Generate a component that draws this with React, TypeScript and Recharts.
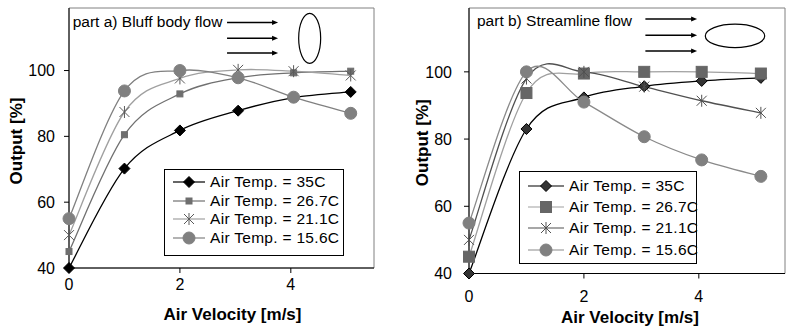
import { LineChart, Line, XAxis, YAxis, Legend, ReferenceLine, ReferenceDot, ReferenceArea } from 'recharts';

// air velocity [m/s] of the measured points
const velocity = [0, 1, 2, 3.05, 4.05, 5.08];

// part a) bluff body flow, output [%]
const bluff35 = [40, 70.2, 81.8, 87.8, 91.8, 93.5];
const bluff267 = [45, 80.5, 92.9, 97.8, 99.3, 99.8];
const bluff211 = [50, 87.4, 97.6, 100.2, 99.8, 98.5];
const bluff156 = [55, 93.8, 100, 97.8, 91.9, 87];

// part b) streamline flow, output [%]
const stream35 = [40, 83, 92.4, 95.7, 97.3, 98.2];
const stream267 = [45, 93.7, 99.5, 100, 100, 99.5];
const stream211 = [50, 98, 100, 95.6, 91.4, 87.8];
const stream156 = [55, 100, 91, 80.7, 73.8, 68.9];

const seriesNames = ['Air Temp. = 35C', 'Air Temp. = 26.7C', 'Air Temp. = 21.1C', 'Air Temp. = 15.6C'];
const xTicks = [0, 2, 4];
const yTicks = [40, 60, 80, 100];

const FONT = '"Liberation Sans", Arial, sans-serif';

const toRows = (a: number[], b: number[], c: number[], d: number[]) =>
  velocity.map((v, i) => ({ v, t35: a[i], t267: b[i], t211: c[i], t156: d[i] }));

const bluffData = toRows(bluff35, bluff267, bluff211, bluff156);
const streamData = toRows(stream35, stream267, stream211, stream156);

// Excel-like smoothed line (Catmull-Rom style bezier through the points)
function excelCurve(context: any) {
  let pts: number[][] = [];
  return {
    areaStart() {},
    areaEnd() {},
    lineStart() {
      pts = [];
    },
    point(x: number, y: number) {
      pts.push([+x, +y]);
    },
    lineEnd() {
      const n = pts.length;
      if (!n) return;
      context.moveTo(pts[0][0], pts[0][1]);
      for (let i = 0; i < n - 1; i++) {
        const p0 = pts[Math.max(i - 1, 0)];
        const p1 = pts[i];
        const p2 = pts[i + 1];
        const p3 = pts[Math.min(i + 2, n - 1)];
        context.bezierCurveTo(
          p1[0] + (p2[0] - p0[0]) / 6,
          p1[1] + (p2[1] - p0[1]) / 6,
          p2[0] - (p3[0] - p1[0]) / 6,
          p2[1] - (p3[1] - p1[1]) / 6,
          p2[0],
          p2[1]
        );
      }
    },
  };
}

type MarkerStyle = { kind: string; size: number; fill: string; stroke: string };

function Marker({ cx, cy, m }: { cx: number; cy: number; m: MarkerStyle }) {
  const s = m.size / 2;
  if (m.kind === 'diamond') {
    return <polygon points={`${cx},${cy - s} ${cx + s},${cy} ${cx},${cy + s} ${cx - s},${cy}`} fill={m.fill} stroke={m.stroke} />;
  }
  if (m.kind === 'square') {
    return <rect x={cx - s} y={cy - s} width={m.size} height={m.size} fill={m.fill} stroke={m.stroke} />;
  }
  if (m.kind === 'star') {
    return (
      <g stroke={m.stroke} strokeWidth={1}>
        <line x1={cx - s} y1={cy - s} x2={cx + s} y2={cy + s} />
        <line x1={cx - s} y1={cy + s} x2={cx + s} y2={cy - s} />
        <line x1={cx} y1={cy - s - 1} x2={cx} y2={cy + s + 1} />
      </g>
    );
  }
  return <circle cx={cx} cy={cy} r={s} fill={m.fill} stroke={m.stroke} />;
}

const bluffStyles = [
  { key: 't35', line: '#000000', marker: { kind: 'diamond', size: 11, fill: '#000000', stroke: '#000000' } },
  { key: 't267', line: '#707070', marker: { kind: 'square', size: 6, fill: '#6e6e6e', stroke: '#6e6e6e' } },
  { key: 't211', line: '#a0a0a0', marker: { kind: 'star', size: 10, fill: 'none', stroke: '#5a5a5a' } },
  { key: 't156', line: '#808080', marker: { kind: 'circle', size: 12, fill: '#808080', stroke: '#808080' } },
];

const streamStyles = [
  { key: 't35', line: '#000000', marker: { kind: 'diamond', size: 11, fill: '#333333', stroke: '#000000' } },
  { key: 't267', line: '#a0a0a0', marker: { kind: 'square', size: 11, fill: '#666666', stroke: '#666666' } },
  { key: 't211', line: '#505050', marker: { kind: 'star', size: 10, fill: 'none', stroke: '#505050' } },
  { key: 't156', line: '#8a8a8a', marker: { kind: 'circle', size: 12, fill: '#808080', stroke: '#808080' } },
];

function LegendBox({ styles, rowGap, sampleW }: { styles: any[]; rowGap: number; sampleW: number }) {
  return (
    <div style={{ border: '1px solid #000', background: '#fff', padding: '3px 0 0 8px', fontFamily: FONT, fontSize: 15.5, letterSpacing: 0.3, boxSizing: 'border-box', width: '100%', height: '100%' }}>
      {styles.map((s, i) => (
        <div key={s.key} style={{ display: 'flex', alignItems: 'center', height: rowGap, whiteSpace: 'nowrap' }}>
          <svg width={sampleW} height={16} style={{ marginRight: 5, flex: 'none' }}>
            <line x1={0} y1={8} x2={sampleW} y2={8} stroke={s.line} strokeWidth={1.2} />
            <Marker cx={sampleW / 2} cy={8} m={s.marker} />
          </svg>
          <span>{seriesNames[i]}</span>
        </div>
      ))}
    </div>
  );
}

const Arrow = (p: any) => (
  <g>
    <line x1={p.x1} y1={p.y1} x2={p.x2 - 5} y2={p.y2} stroke="#000" strokeWidth={1.5} />
    <polygon points={`${p.x2},${p.y2} ${p.x2 - 6},${p.y2 - 2.5} ${p.x2 - 6},${p.y2 + 2.5}`} fill="#000" />
  </g>
);

const yTitle = (dx: number, dy: number) => (props: any) => {
  const vb = props.viewBox;
  const x = vb.x + dx;
  const y = vb.y + vb.height / 2 + dy;
  return (
    <text x={x} y={y} transform={`rotate(-90 ${x} ${y})`} textAnchor="middle" dominantBaseline="central" fontFamily={FONT} fontWeight="bold" fontSize={17} fill="#000">
      Output [%]
    </text>
  );
};

const xTitle = (dx: number, dy: number) => (props: any) => {
  const vb = props.viewBox;
  return (
    <text x={vb.x + vb.width / 2 + dx} y={vb.y + dy} textAnchor="middle" dominantBaseline="central" fontFamily={FONT} fontWeight="bold" fontSize={17} fill="#000">
      Air Velocity [m/s]
    </text>
  );
};

const tickStyle = { fontFamily: FONT, fontSize: 16, fill: '#000' };

function Panel(props: {
  data: any[];
  styles: any[];
  width: number;
  yAxisWidth: number;
  marginRight: number;
  xAxisHeight: number;
  xTickMargin: number;
  yTickMargin: number;
  xTitlePos: number[];
  yTitlePos: number[];
  legendBox: { left: number; top: number; width: number; height: number };
  rowGap: number;
  sampleW: number;
  title: string;
  titleAt: number[];
  arrowX: number[];
  arrowY: number[];
  ellipseAt: number[];
  ellipseR: number[];
}) {
  const p = props;
  return (
    <LineChart width={p.width} height={328} data={p.data} margin={{ top: 8, right: p.marginRight, left: 0, bottom: 0 }}>
      <ReferenceArea x1={0} x2={5.5} y1={40} y2={119} fill="none" stroke="#808080" strokeWidth={1} ifOverflow="visible" />
      <XAxis
        type="number"
        dataKey="v"
        domain={[0, 5.5]}
        ticks={xTicks}
        height={p.xAxisHeight}
        tickSize={5}
        tickMargin={p.xTickMargin}
        stroke="#000"
        tick={tickStyle}
        label={{ content: xTitle(p.xTitlePos[0], p.xTitlePos[1]) }}
      />
      <YAxis
        type="number"
        domain={[40, 119]}
        ticks={yTicks}
        width={p.yAxisWidth}
        tickSize={5}
        tickMargin={p.yTickMargin}
        stroke="#000"
        tick={tickStyle}
        label={{ content: yTitle(p.yTitlePos[0], p.yTitlePos[1]) }}
      />
      <ReferenceDot
        x={p.titleAt[0]}
        y={p.titleAt[1]}
        r={0}
        ifOverflow="visible"
        shape={(s: any) => (
          <text x={s.cx} y={s.cy} dominantBaseline="central" fontFamily={FONT} fontSize={15.5} fill="#000">
            {p.title}
          </text>
        )}
      />
      {p.arrowY.map((ay) => (
        <ReferenceLine
          key={ay}
          segment={[
            { x: p.arrowX[0], y: ay },
            { x: p.arrowX[1], y: ay },
          ]}
          ifOverflow="visible"
          shape={Arrow}
        />
      ))}
      <ReferenceDot
        x={p.ellipseAt[0]}
        y={p.ellipseAt[1]}
        r={0}
        ifOverflow="visible"
        shape={(s: any) => <ellipse cx={s.cx} cy={s.cy} rx={p.ellipseR[0]} ry={p.ellipseR[1]} fill="none" stroke="#000" strokeWidth={1.2} />}
      />
      {p.styles.map((s, i) => (
        <Line
          key={s.key}
          dataKey={s.key}
          name={seriesNames[i]}
          type={excelCurve as any}
          stroke={s.line}
          strokeWidth={1.3}
          isAnimationActive={false}
          dot={(d: any) => <Marker key={`${s.key}-${d.index}`} cx={d.cx} cy={d.cy} m={s.marker} />}
          activeDot={false}
        />
      ))}
      <Legend
        layout="vertical"
        align="center"
        verticalAlign="middle"
        wrapperStyle={{ ...p.legendBox, position: 'absolute' }}
        content={() => <LegendBox styles={p.styles} rowGap={p.rowGap} sampleW={p.sampleW} />}
      />
    </LineChart>
  );
}

export default function App() {
  return (
    <div style={{ position: 'absolute', left: 0, top: 0, width: 787, height: 328, background: '#fff' }}>
      <div style={{ position: 'absolute', left: 0, top: 0 }}>
        <Panel
          data={bluffData}
          styles={bluffStyles}
          width={390}
          yAxisWidth={69}
          marginRight={16}
          xAxisHeight={60}
          xTickMargin={6}
          yTickMargin={9}
          xTitlePos={[11, 46]}
          yTitlePos={[16, 3]}
          legendBox={{ left: 164, top: 169, width: 180, height: 87 }}
          rowGap={18.6}
          sampleW={32}
          title="part a) Bluff body flow"
          titleAt={[0.067, 114.9]}
          arrowX={[2.85, 3.77]}
          arrowY={[114.6, 109.8, 105.3]}
          ellipseAt={[4.34, 109.8]}
          ellipseR={[11, 25]}
        />
      </div>
      <div style={{ position: 'absolute', left: 395, top: 0 }}>
        <Panel
          data={streamData}
          styles={streamStyles}
          width={392}
          yAxisWidth={74}
          marginRight={2}
          xAxisHeight={54.5}
          xTickMargin={12}
          yTickMargin={12}
          xTitlePos={[3, 44]}
          yTitlePos={[27, 2]}
          legendBox={{ left: 124, top: 171, width: 178, height: 93 }}
          rowGap={21.3}
          sampleW={36}
          title="part b) Streamline flow"
          titleAt={[0.139, 115.4]}
          arrowX={[3.07, 3.97]}
          arrowY={[115.7, 110.9, 106.2]}
          ellipseAt={[4.63, 110.7]}
          ellipseR={[29.7, 11.7]}
        />
      </div>
    </div>
  );
}
